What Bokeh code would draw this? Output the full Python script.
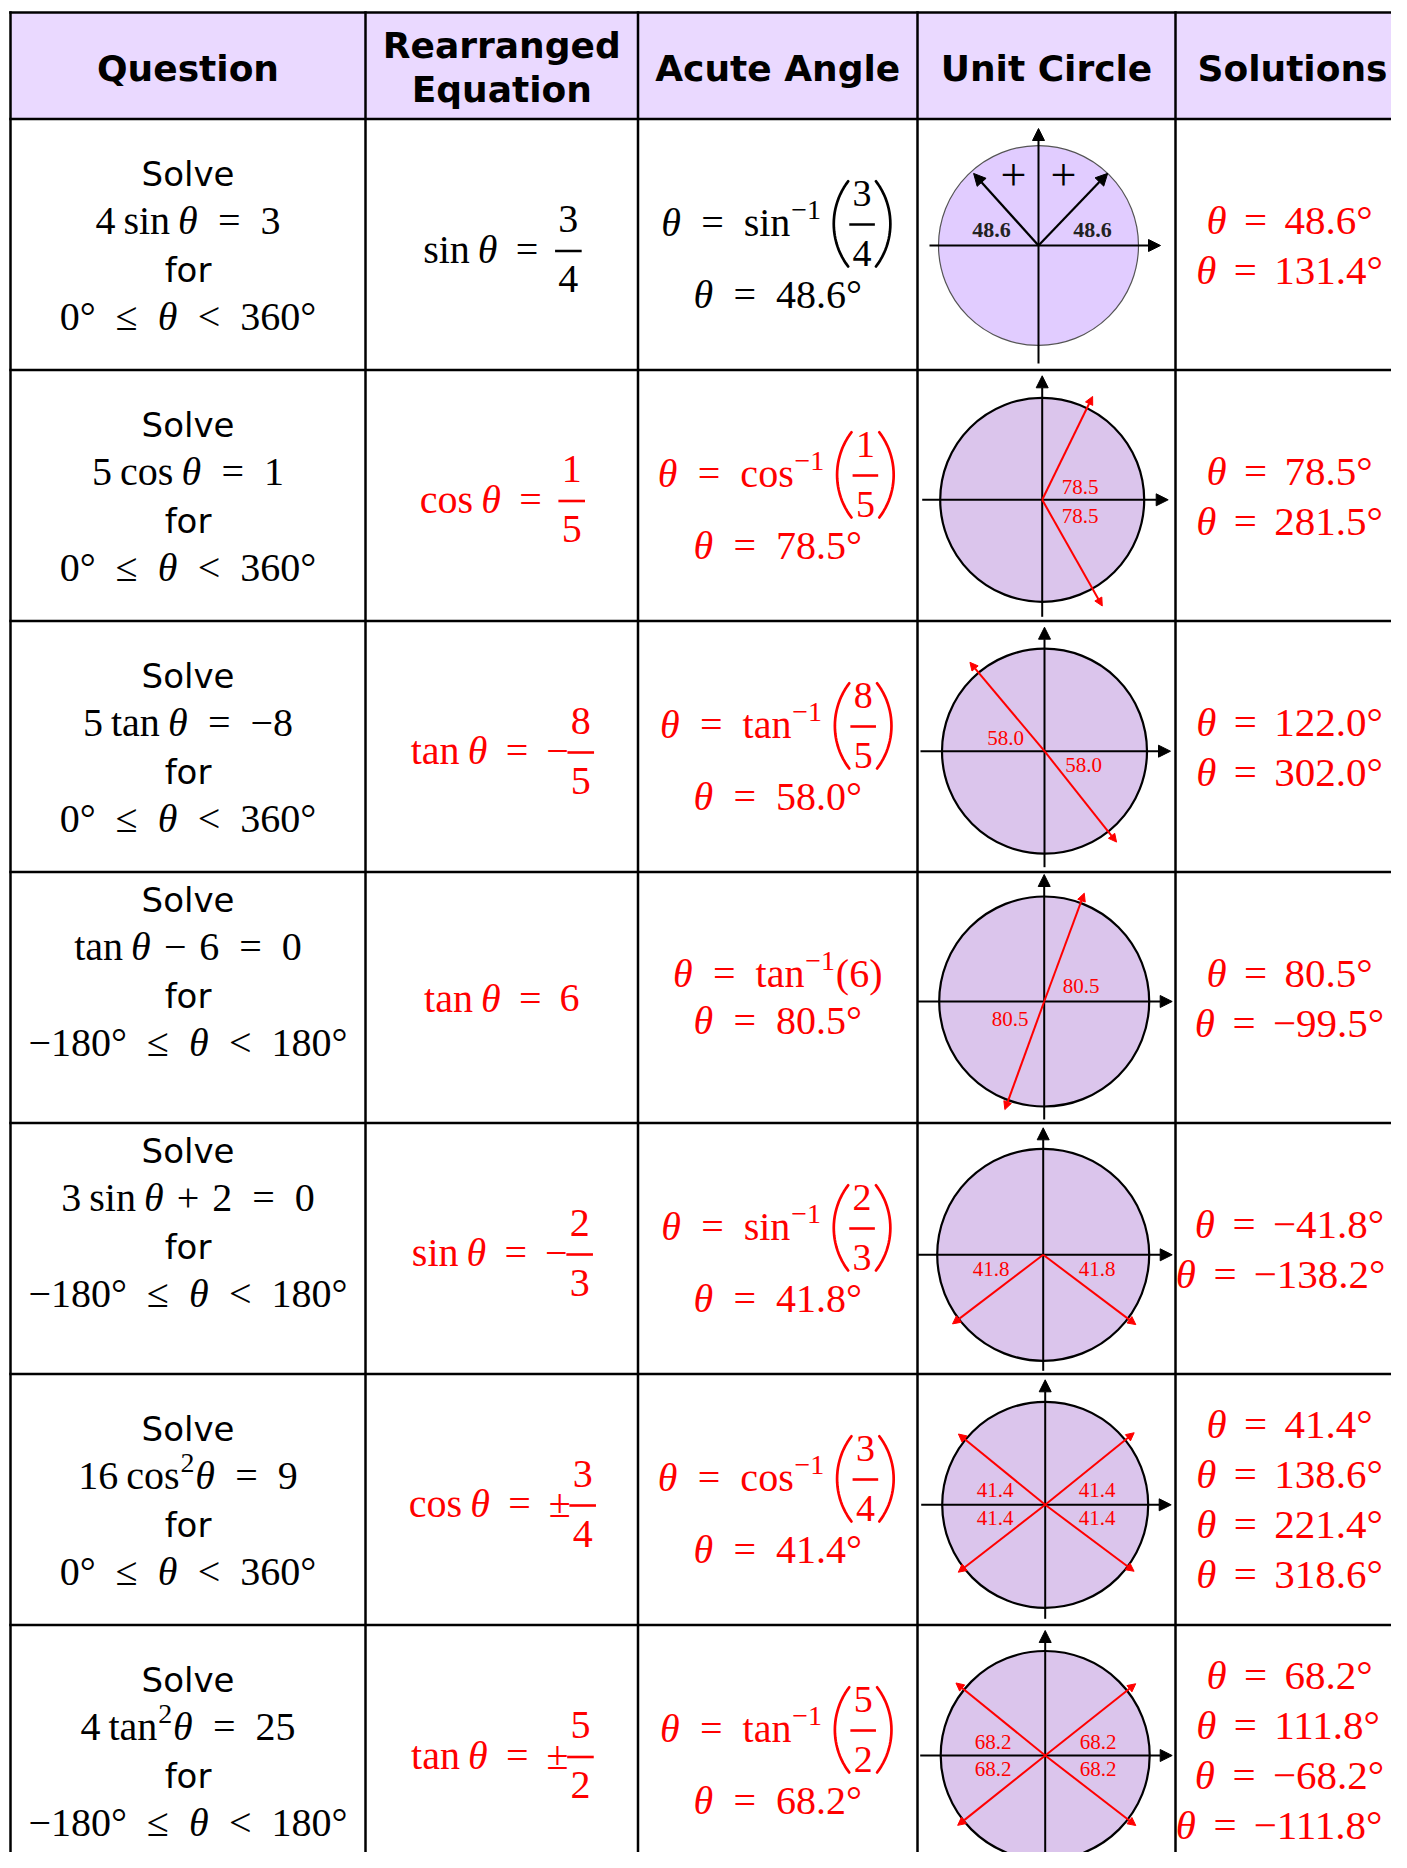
import math
from bokeh.plotting import figure
from bokeh.models import ColumnDataSource, Range1d, Arrow, NormalHead
from bokeh.core.properties import value
from bokeh.embed import file_html
from bokeh.resources import INLINE

# ------------------------------------------------------------------ data
header_lines = [["Question"], ["Rearranged", "Equation"], ["Acute Angle"], ["Unit Circle"], ["Solutions"]]
question_equations = ["4 sin θ = 3", "5 cos θ = 1", "5 tan θ = −8", "tan θ − 6 = 0",
                      "3 sin θ + 2 = 0", "16 cos²θ = 9", "4 tan²θ = 25"]
question_ranges = ["0° ≤ θ < 360°", "0° ≤ θ < 360°", "0° ≤ θ < 360°", "−180° ≤ θ < 180°",
                   "−180° ≤ θ < 180°", "0° ≤ θ < 360°", "−180° ≤ θ < 180°"]
trig_funcs = ["sin", "cos", "tan", "tan", "sin", "cos", "tan"]
ratio_signs = ["", "", "−", "", "−", "±", "±"]
ratio_nums = ["3", "1", "8", "6", "2", "3", "5"]
ratio_dens = ["4", "5", "5", "", "3", "4", "2"]
acute_angles = [48.6, 78.5, 58.0, 80.5, 41.8, 41.4, 68.2]
solution_angles = [[48.6, 131.4], [78.5, 281.5], [122.0, 302.0], [80.5, -99.5],
                   [-41.8, -138.2], [41.4, 138.6, 221.4, 318.6], [68.2, 111.8, -68.2, -111.8]]
middle_ink = ["black", "red", "red", "red", "red", "red", "red"]

# unit-circle sketches (angles as drawn, degrees anticlockwise from +x)
uc_arrow_angles = [[46.2, 132.0], [64.0, -60.5], [130.0, -51.6], [69.7, 250.0],
                   [217.3, -37.0], [39.0, 140.8, 217.8, -36.8], [38.4, 140.9, 218.6, -37.7]]
uc_arrow_lengths = [[100, 97], [115, 122], [116, 116], [115.5, 115], [114, 116],
                    [114.5, 112, 110, 111], [115.5, 115, 112, 114.5]]
uc_label_dx = [[-47, 54], [38, 38], [-39, 39], [37, -34], [-52, 54],
               [-50, 52, -50, 52], [-52, 53, -52, 53]]
uc_label_dy = [[-15.5, -15.5], [-13, 16], [-13, 14], [-16, 17], [14, 14],
               [-15, -15, 13, 13], [-14, -14, 13, 13]]
plus_marks_dx = [-25, 25]
plus_marks_dy = [-68, -68]

# ------------------------------------------------------------------ layout
col_edges = [10, 365, 637.5, 917, 1175, 1409]
header_top, header_bottom = 12, 118.5
row_h = 251
n_rows = len(question_equations)
row_tops = [header_bottom + row_h * k for k in range(n_rows)]
col_cx = [(col_edges[i] + col_edges[i + 1]) / 2 for i in range(5)]
col_cx[3] = 1046
col_cx[4] = 1289
FIG_W, FIG_H = 1391, 1852

q_shift = [0, 0, 0, -27, -27, 0, 0]
q_base_rel = [67, 115.5, 163, 211.5]
rearr_base_rel = [144, 143, 143.5, 140, 143.5, 143.5, 144]

uc_cx = [1038, 1041.7, 1044, 1043.7, 1042.7, 1044.7, 1044.7]
uc_cy_rel = [126.5, 129.8, 130.2, 129.5, 131.8, 130.8, 130.5]
uc_r = [100, 102, 102.5, 105, 106, 103, 104.5]
uc_h_left = [109, 120, 124, 127, 126, 124, 125]
uc_h_right = [122, 126, 126, 128, 129, 126, 127]
uc_v_up = [117, 124, 124, 127, 127, 125, 125]
uc_v_down = [118, 117, 116, 118, 116, 114, 122]

SERIF = "Liberation Serif"
SANS = "DejaVu Sans"
MID = 0.34      # distance (em) from baseline up to the visual middle of digits / capitals

p = figure(width=FIG_W, height=FIG_H, x_range=Range1d(0, FIG_W), y_range=Range1d(FIG_H, 0),
           output_backend="svg", toolbar_location=None, x_axis_location=None,
           y_axis_location=None, min_border=0, outline_line_color=None,
           background_fill_color="white", border_fill_color="white")
p.grid.visible = False

# ------------------------------------------------------------------ collectors
texts = {}
def add_text(x, base, s, font, size, color, style="normal", align="left"):
    """base = alphabetic baseline; drawn with a 'middle' baseline."""
    key = (font, round(size, 1), color, style, align)
    d = texts.setdefault(key, {"x": [], "y": [], "text": []})
    d["x"].append(x); d["y"].append(base - MID * size); d["text"].append(s)

segs = {}
def add_seg(x0, y0, x1, y1, color, width):
    d = segs.setdefault((color, width), {"x0": [], "y0": [], "x1": [], "y1": []})
    d["x0"].append(x0); d["y0"].append(y0); d["x1"].append(x1); d["y1"].append(y1)

polys = {}
def add_poly(xs, ys, color, width):
    d = polys.setdefault((color, width), {"xs": [], "ys": []})
    d["xs"].append(xs); d["ys"].append(ys)

# ------------------------------------------------------------------ math layout
CW = {'0': .5, '1': .5, '2': .5, '3': .5, '4': .5, '5': .5, '6': .5, '7': .5, '8': .5, '9': .5,
      '.': .25, '°': .4, '=': .564, '<': .564, '≤': .549, '−': .564, '+': .564, '±': .549,
      '(': .333, ')': .333, 's': .389, 'i': .278, 'n': .5, 'c': .444, 'o': .5, 't': .278,
      'a': .444, 'θ': .5}
RELS = {"=", "<", "≤"}
OPS = {"−", "+"}

def tw(s):
    return sum(CW.get(c, .5) for c in s)

def gap_between(a, b, rel_gap):
    if a in RELS or b in RELS:
        return rel_gap
    if a in OPS or b in OPS:
        return 0.32
    return 0.2

def runs_of(token):
    pieces, buf, i = [], "", 0
    def flush():
        nonlocal buf
        if buf:
            pieces.append(('t', buf, False))
            buf = ""
    while i < len(token):
        ch = token[i]
        if ch == 'θ':
            flush(); pieces.append(('t', 'θ', True))
        elif ch == '²':
            flush(); pieces.append(('sup', '2'))
        elif token.startswith('⁻¹', i):
            flush(); pieces.append(('sup', '−1')); i += 1
        elif ch == '{':
            flush(); j = token.index('}', i)
            body = token[i + 1:j]
            if '|' in body:
                num, den = body.split('|'); kind = 'ifrac'
            else:
                num, den = body.split('/'); kind = 'frac'
            pieces.append((kind, num, den)); i = j
        elif ch == '[':
            flush(); pieces.append(('lp',))
        elif ch == ']':
            flush(); pieces.append(('rp',))
        else:
            buf += ch
        i += 1
    flush()
    return pieces

def piece_width(pc, F):
    k = pc[0]
    if k == 't':
        return tw(pc[1]) * F
    if k == 'sup':
        return tw(pc[1]) * F * 0.7 + 0.04 * F
    if k == 'frac':
        return max(tw(pc[1]), tw(pc[2])) * F + 0.1 * F
    if k == 'ifrac':
        return max(tw(pc[1]), tw(pc[2])) * F * 0.95 + 0.14 * F
    return 0.5 * F

def paren(x_end, x_mid, top, bot, color, lw):
    h = (bot - top) / 2.0
    ymid = (top + bot) / 2.0
    s = abs(x_end - x_mid)
    R = (h * h + s * s) / (2 * s)
    sign = 1 if x_mid < x_end else -1
    xc = x_mid + sign * R
    phimax = math.asin(h / R)
    xs, ys = [], []
    for i in range(25):
        phi = -phimax + 2 * phimax * i / 24
        xs.append(xc - sign * R * math.cos(phi))
        ys.append(ymid + R * math.sin(phi))
    add_poly(xs, ys, color, lw)

def render_piece(pc, x, base, F, color, w):
    k = pc[0]
    if k == 't':
        add_text(x, base, pc[1], SERIF, F, color, "italic" if pc[2] else "normal")
    elif k == 'sup':
        add_text(x + 0.02 * F, base - 0.42 * F, pc[1], SERIF, F * 0.7, color)
    elif k in ('frac', 'ifrac'):
        bar = base - 0.3 * F
        mid = x + w / 2
        if k == 'frac':
            Ff, up, down, inset = F, 0.46 * F, 1.05 * F, 0.0
        else:
            Ff, up, down, inset = F * 0.95, 0.44 * F, 1.05 * F, 0.02 * F
        add_text(mid, bar - up, pc[1], SERIF, Ff, color, align="center")
        add_text(mid, bar + down, pc[2], SERIF, Ff, color, align="center")
        add_seg(x + inset, bar, x + w - inset, bar, color, 2.6)
    elif k == 'lp':
        paren(x + w - 0.04 * F, x + 0.1 * F, base - 1.38 * F, base + 0.75 * F, color, 2.7)
    elif k == 'rp':
        paren(x + 0.04 * F, x + w - 0.1 * F, base - 1.38 * F, base + 0.75 * F, color, 2.7)

def draw_math(s, cx, base, F, color, rel_gap=0.5, right_limit=None):
    tokens = s.split(" ")
    plist = [runs_of(t) for t in tokens]
    widths = [sum(piece_width(pc, F) for pc in ps) for ps in plist]
    gaps = [gap_between(tokens[i], tokens[i + 1], rel_gap) * F for i in range(len(tokens) - 1)]
    total = sum(widths) + sum(gaps)
    if right_limit is not None:
        cx = min(cx, right_limit - total / 2)
    x = cx - total / 2
    for i, ps in enumerate(plist):
        for pc in ps:
            w = piece_width(pc, F)
            render_piece(pc, x, base, F, color, w)
            x += w
        if i < len(gaps):
            x += gaps[i]

def fmt_angle(a):
    return ("−" if a < 0 else "") + f"{abs(a):.1f}°"

# ------------------------------------------------------------------ header
p.quad(left=[col_edges[0]], right=[col_edges[-1]], top=[header_top], bottom=[header_bottom],
       fill_color="#EAD9FF", line_color=None)
header_bases = {1: [57, 101]}
for i, lines in enumerate(header_lines):
    bases = header_bases.get(i, [80])
    for ln, b in zip(lines, bases):
        add_text(col_cx[i] if i != 4 else 1292, b, ln, SANS, 36, "black", "bold", "center")

# ------------------------------------------------------------------ unit circles
circ = dict(x=[], y=[], r=[], fill=[], line=[], lw=[])
axis_arr = dict(x0=[], y0=[], x1=[], y1=[])
blk_arr = dict(x0=[], y0=[], x1=[], y1=[])
red_arr = dict(x0=[], y0=[], x1=[], y1=[])
for k in range(n_rows):
    cx = uc_cx[k]
    cy = row_tops[k] + uc_cy_rel[k]
    circ["x"].append(cx); circ["y"].append(cy); circ["r"].append(uc_r[k])
    circ["fill"].append("#E1CCFF" if k == 0 else "#DBC5EC")
    circ["line"].append("#555555" if k == 0 else "black")
    circ["lw"].append(1.2 if k == 0 else 2.2)
    axis_arr["x0"].append(cx - uc_h_left[k]); axis_arr["y0"].append(cy)
    axis_arr["x1"].append(cx + uc_h_right[k]); axis_arr["y1"].append(cy)
    axis_arr["x0"].append(cx); axis_arr["y0"].append(cy + uc_v_down[k])
    axis_arr["x1"].append(cx); axis_arr["y1"].append(cy - uc_v_up[k])
    tgt = blk_arr if k == 0 else red_arr
    for a, L in zip(uc_arrow_angles[k], uc_arrow_lengths[k]):
        tgt["x0"].append(cx); tgt["y0"].append(cy)
        tgt["x1"].append(cx + L * math.cos(math.radians(a)))
        tgt["y1"].append(cy - L * math.sin(math.radians(a)))
    lab = f"{acute_angles[k]:.1f}"
    for dx, dy in zip(uc_label_dx[k], uc_label_dy[k]):
        if k == 0:
            add_text(cx + dx, cy + dy + MID * 22, lab, SERIF, 22, "#222222", "bold", "center")
        else:
            add_text(cx + dx, cy + dy + MID * 21, lab, SERIF, 21, "red", "normal", "center")
    if k == 0:
        for dx, dy in zip(plus_marks_dx, plus_marks_dy):
            add_text(cx + dx, cy + dy + 0.27 * 46, "+", SERIF, 46, "black", "normal", "center")

p.circle(x="x", y="y", radius="r", fill_color="fill", line_color="line", line_width="lw",
         source=ColumnDataSource(circ))

p.add_layout(Arrow(end=NormalHead(size=12, fill_color="black", line_color="black", line_width=1),
                   source=ColumnDataSource(axis_arr), x_start="x0", y_start="y0",
                   x_end="x1", y_end="y1", line_color="black", line_width=2))
p.add_layout(Arrow(end=NormalHead(size=12, fill_color="black", line_color="black", line_width=1),
                   source=ColumnDataSource(blk_arr), x_start="x0", y_start="y0",
                   x_end="x1", y_end="y1", line_color="black", line_width=2.2))
p.add_layout(Arrow(end=NormalHead(size=8, fill_color="red", line_color="red", line_width=1),
                   source=ColumnDataSource(red_arr), x_start="x0", y_start="y0",
                   x_end="x1", y_end="y1", line_color="red", line_width=2))

# ------------------------------------------------------------------ cell texts
for k in range(n_rows):
    T = row_tops[k]
    qb = [T + b + q_shift[k] for b in q_base_rel]
    add_text(col_cx[0], qb[0], "Solve", SANS, 34, "black", "normal", "center")
    draw_math(question_equations[k], col_cx[0], qb[1], 40, "black")
    add_text(col_cx[0], qb[2], "for", SANS, 34, "black", "normal", "center")
    draw_math(question_ranges[k], col_cx[0], qb[3], 40, "black")

    ink = middle_ink[k]
    f = trig_funcs[k]
    if ratio_dens[k]:
        rearr = f + " θ = " + ratio_signs[k] + "{" + ratio_nums[k] + "/" + ratio_dens[k] + "}"
        acute1 = "θ = " + f + "⁻¹ [{" + ratio_nums[k] + "|" + ratio_dens[k] + "}]"
        ab = [117.5, 189]
    else:
        rearr = f + " θ = " + ratio_signs[k] + ratio_nums[k]
        acute1 = "θ = " + f + "⁻¹(" + ratio_nums[k] + ")"
        ab = [115, 162.5]
    draw_math(rearr, col_cx[1], T + rearr_base_rel[k], 40, ink, 0.45)
    draw_math(acute1, col_cx[2], T + ab[0], 40, ink, 0.5)
    draw_math("θ = " + fmt_angle(acute_angles[k]), col_cx[2], T + ab[1], 40, ink)

    sols = solution_angles[k]
    sb = [114.5, 164.5] if len(sols) == 2 else [64, 114, 164, 214]
    for a, b in zip(sols, sb):
        draw_math("θ = " + fmt_angle(a), col_cx[4], T + b, 41, "red", 0.42,
                  right_limit=FIG_W - 6)

# grid lines
for x in col_edges:
    add_seg(x, header_top, x, 1870, "black", 2.5)
for y in [header_top, header_bottom] + [t + row_h for t in row_tops]:
    add_seg(col_edges[0], y, col_edges[-1], y, "black", 2.5)

# ------------------------------------------------------------------ emit
for (color, width), d in polys.items():
    p.multi_line(xs="xs", ys="ys", source=ColumnDataSource(d), line_color=color,
                 line_width=width, line_cap="round")
for (color, width), d in segs.items():
    p.segment(x0="x0", y0="y0", x1="x1", y1="y1", source=ColumnDataSource(d),
              line_color=color, line_width=width, line_cap="square")
for (font, size, color, style, align), d in texts.items():
    p.text(x="x", y="y", text="text", source=ColumnDataSource(d), text_font=value(font),
           text_font_size=f"{size}px", text_color=color, text_font_style=style,
           text_align=align, text_baseline="middle")

open("out.html", "w").write(file_html(p, INLINE))
